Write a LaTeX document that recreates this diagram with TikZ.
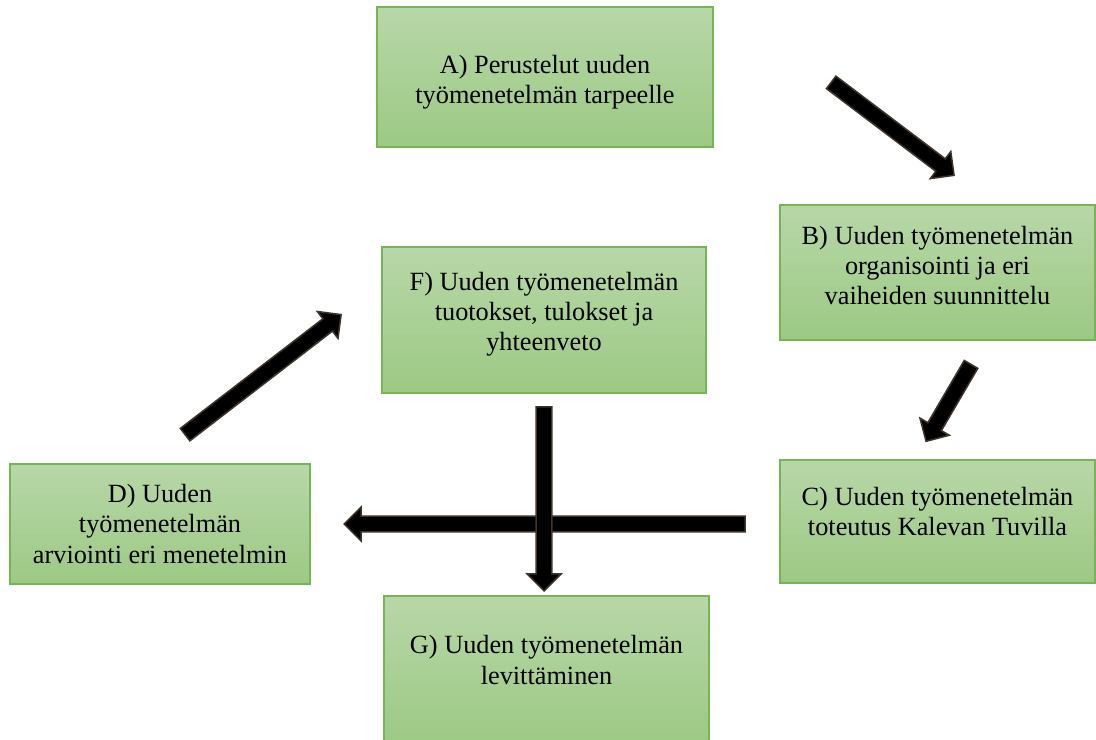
\documentclass[tikz,border=0pt]{standalone}
\usepackage{fontspec}
\setmainfont{Liberation Serif}
\usetikzlibrary{shapes.arrows,calc}
\definecolor{boxtop}{RGB}{184,215,168}
\definecolor{boxbot}{RGB}{156,201,132}
\definecolor{boxline}{RGB}{120,180,86}
\definecolor{arrline}{RGB}{62,52,44}
\begin{document}
\begin{tikzpicture}[x=0.025cm,y=-0.025cm,
    stagebox/.style={draw=boxline,line width=0.9pt,top color=boxtop,bottom color=boxbot,inner sep=0pt},
    stagetext/.style={align=center,font=\fontsize{18.7}{21.5}\selectfont,inner sep=0pt},
    blockarrow/.style={single arrow,draw=arrline,fill=black,line width=1.1pt,
        inner sep=5pt,minimum width=23pt,single arrow head extend=6.5pt}]
    \useasboundingbox (0,0) rectangle (1096,740);
    % boxes
    \node[stagebox,minimum width=8.4cm,minimum height=3.5cm] (A) at (545,77) {};
    \node[stagetext] (A-txt) at (545,82) {A) Perustelut uuden\\työmenetelmän tarpeelle};
    \node[stagebox,minimum width=7.875cm,minimum height=3.375cm] (B) at (937.5,272.5) {};
    \node[stagetext] (B-txt) at (937.5,265.5)
        {B) Uuden työmenetelmän\\organisointi ja eri\\vaiheiden suunnittelu};
    \node[stagebox,minimum width=7.875cm,minimum height=3.075cm] (C) at (937.5,521.5) {};
    \node[stagetext] (C-txt) at (937.5,511.5)
        {C) Uuden työmenetelmän\\toteutus Kalevan Tuvilla};
    \node[stagebox,minimum width=7.5cm,minimum height=3cm] (D) at (160,524) {};
    \node[stagetext] (D-txt) at (160,524)
        {D) Uuden\\työmenetelmän\\arviointi eri menetelmin};
    \node[stagebox,minimum width=8.1cm,minimum height=3.65cm] (F) at (544,320) {};
    \node[stagetext] (F-txt) at (544,314)
        {F) Uuden työmenetelmän\\tuotokset, tulokset ja\\yhteenveto};
    \node[stagebox,minimum width=8.125cm,minimum height=3.7cm] (G) at (546.5,670) {};
    \node[stagetext] (G-txt) at (546.5,660)
        {G) Uuden työmenetelmän\\levittäminen};
    % arrow ends
    \coordinate (ab-s) at (828,80);  \coordinate (ab-e) at (951,173);
    \coordinate (bc-s) at (973,361); \coordinate (bc-e) at (928,438);
    \coordinate (cd-s) at (749,524); \coordinate (cd-e) at (348,524);
    \coordinate (df-s) at (182,437); \coordinate (df-e) at (338,317);
    \coordinate (fg-s) at (544,403); \coordinate (fg-e) at (544,587);
    \foreach \a in {ab,bc,cd,df,fg}
        \path let \p1=(\a-s), \p2=(\a-e),
            \n1={atan2(\y2-\y1,\x2-\x1)}, \n2={veclen(\x2-\x1,\y2-\y1)} in
            node[blockarrow,minimum height=\n2,rotate=\n1] (arr-\a)
            at ($(\a-s)!0.5!(\a-e)$) {};
\end{tikzpicture}
\end{document}
